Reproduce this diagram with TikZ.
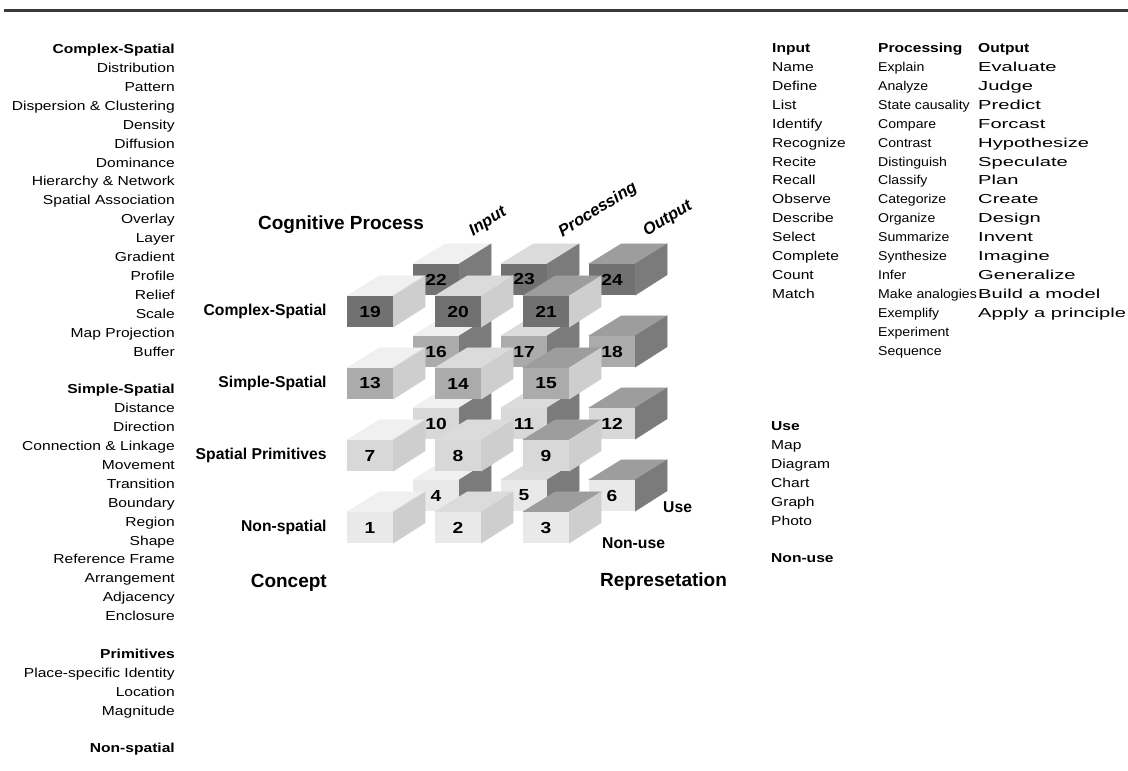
\documentclass[tikz,border=0pt]{standalone}
\usepackage{fontspec}
\setmainfont{Liberation Sans}
\newfontfamily\widefont{Liberation Sans}[FakeStretch=1.2]
\newfontfamily\procfont{Liberation Sans}[FakeStretch=1.1]
\newfontfamily\widerfont{Liberation Sans}[FakeStretch=1.55]
\usetikzlibrary{positioning}

\definecolor{lvlnon}{HTML}{E9E9E9}
\definecolor{lvlprim}{HTML}{D8D8D8}
\definecolor{lvlsimple}{HTML}{ABABAB}
\definecolor{lvlcomplex}{HTML}{717171}
\definecolor{topin}{HTML}{F0F0F0}
\definecolor{toppro}{HTML}{DBDBDB}
\definecolor{topout}{HTML}{9D9D9D}
\definecolor{sidenon}{HTML}{CECECE}
\definecolor{sideuse}{HTML}{7B7B7B}
\definecolor{rulegray}{HTML}{3A3A3A}

\newcommand{\blockbox}[6]{%
  \node[face, fill=#3] (#1) at (#2) {#6};
  \filldraw[#4, line width=0.3pt] (#1.north west) -- (#1.north east) -- ++(32,-20) -- ++(-46,0) -- cycle;
  \filldraw[#5, line width=0.3pt] (#1.south east) -- (#1.north east) -- ++(32,-20) -- ++(0,31) -- cycle;
}

\begin{document}
\begin{tikzpicture}[x=1pt, y=-1pt,
    face/.style={inner sep=0pt, minimum width=46pt, minimum height=31pt,
      font=\widefont\bfseries\fontsize{16}{18}\selectfont},
    rowlabel/.style={font=\bfseries\fontsize{15.7}{18}\selectfont, inner sep=0pt},
    biglabel/.style={font=\bfseries\fontsize{19}{22}\selectfont, inner sep=0pt},
    axislabel/.style={font=\bfseries\itshape\fontsize{16.5}{18}\selectfont, rotate=32, inner sep=0pt},
    wordlist/.style={font=\widefont\fontsize{13}{18.9}\selectfont, inner sep=0pt}]

  \useasboundingbox (0,0) rectangle (1128,771);
  \draw[rulegray, line width=2.2pt] (4,10.5) -- (1128,10.5);

  \blockbox{b22}{436,279.5}{lvlcomplex}{topin}{sideuse}{22}
  \blockbox{b23}{524,279.5}{lvlcomplex}{toppro}{sideuse}{23}
  \blockbox{b24}{612,279.5}{lvlcomplex}{topout}{sideuse}{24}
  \blockbox{b16}{436,351.5}{lvlsimple}{topin}{sideuse}{16}
  \blockbox{b17}{524,351.5}{lvlsimple}{toppro}{sideuse}{17}
  \blockbox{b18}{612,351.5}{lvlsimple}{topout}{sideuse}{18}
  \blockbox{b10}{436,423.5}{lvlprim}{topin}{sideuse}{10}
  \blockbox{b11}{524,423.5}{lvlprim}{toppro}{sideuse}{11}
  \blockbox{b12}{612,423.5}{lvlprim}{topout}{sideuse}{12}
  \blockbox{b4}{436,495.5}{lvlnon}{topin}{sideuse}{4}
  \blockbox{b5}{524,495.5}{lvlnon}{toppro}{sideuse}{5}
  \blockbox{b6}{612,495.5}{lvlnon}{topout}{sideuse}{6}

  \blockbox{b19}{370,311.5}{lvlcomplex}{topin}{sidenon}{19}
  \blockbox{b20}{458,311.5}{lvlcomplex}{toppro}{sidenon}{20}
  \blockbox{b21}{546,311.5}{lvlcomplex}{topout}{sidenon}{21}
  \blockbox{b13}{370,383.5}{lvlsimple}{topin}{sidenon}{13}
  \blockbox{b14}{458,383.5}{lvlsimple}{toppro}{sidenon}{14}
  \blockbox{b15}{546,383.5}{lvlsimple}{topout}{sidenon}{15}
  \blockbox{b7}{370,455.5}{lvlprim}{topin}{sidenon}{7}
  \blockbox{b8}{458,455.5}{lvlprim}{toppro}{sidenon}{8}
  \blockbox{b9}{546,455.5}{lvlprim}{topout}{sidenon}{9}
  \blockbox{b1}{370,527.5}{lvlnon}{topin}{sidenon}{1}
  \blockbox{b2}{458,527.5}{lvlnon}{toppro}{sidenon}{2}
  \blockbox{b3}{546,527.5}{lvlnon}{topout}{sidenon}{3}

  \node[rowlabel, left=20pt of b19] (rowcomplex) {Complex-Spatial};
  \node[rowlabel, left=20pt of b13] (rowsimple) {Simple-Spatial};
  \node[rowlabel, left=20pt of b7] (rowprim) {Spatial Primitives};
  \node[rowlabel, left=20pt of b1] (rownon) {Non-spatial};

  \node[biglabel] (cogproc) at (341,225) {Cognitive Process};
  \node[biglabel, anchor=east] (concept) at (327,583) {Concept};
  \node[biglabel, anchor=west] (represent) at (600,582) {Represetation};
  \node[axislabel] (axin) at (488,222) {Input};
  \node[axislabel] (axpro) at (598,210) {Processing};
  \node[axislabel] (axout) at (668,219) {Output};
  \node[rowlabel, anchor=west] (useaxis) at (663,507) {Use};
  \node[rowlabel, anchor=west] (nonuseaxis) at (602,543) {Non-use};

  \node[wordlist, anchor=north east, align=right] (conceptlist) at (175,40.2) {\strut\textbf{Complex-Spatial}\\
    Distribution\\ Pattern\\ Dispersion \& Clustering\\ Density\\ Diffusion\\ Dominance\\
    Hierarchy \& Network\\ Spatial Association\\ Overlay\\ Layer\\ Gradient\\ Profile\\
    Relief\\ Scale\\ Map Projection\\ Buffer\\[18.9pt]
    \textbf{Simple-Spatial}\\ Distance\\ Direction\\ Connection \& Linkage\\ Movement\\
    Transition\\ Boundary\\ Region\\ Shape\\ Reference Frame\\ Arrangement\\ Adjacency\\
    Enclosure\\[18.9pt]
    \textbf{Primitives}\\ Place-specific Identity\\ Location\\ Magnitude\\[18.9pt]
    \textbf{Non-spatial}};

  \node[wordlist, anchor=north west, align=left] (inputlist) at (772,39.2) {\strut\textbf{Input}\\
    Name\\ Define\\ List\\ Identify\\ Recognize\\ Recite\\ Recall\\ Observe\\ Describe\\
    Select\\ Complete\\ Count\\ Match};
  \node[wordlist, font=\procfont\fontsize{12.8}{18.9}\selectfont, anchor=north west, align=left] (processlist) at (878,39.2)
    {\strut{\widefont\bfseries\fontsize{13}{18.9}\selectfont Processing}\\
    Explain\\ Analyze\\ State causality\\ Compare\\ Contrast\\ Distinguish\\ Classify\\
    Categorize\\ Organize\\ Summarize\\ Synthesize\\ Infer\\ Make analogies\\ Exemplify\\
    Experiment\\ Sequence};
  \node[wordlist, font=\widerfont\fontsize{13}{18.9}\selectfont, anchor=north west, align=left] (outputlist) at (978,39.2)
    {\strut{\widefont\bfseries Output}\\
    Evaluate\\ Judge\\ Predict\\ Forcast\\ Hypothesize\\ Speculate\\ Plan\\ Create\\
    Design\\ Invent\\ Imagine\\ Generalize\\ Build a model\\ Apply a principle};
  \node[wordlist, anchor=north west, align=left] (uselist) at (771,417.2) {\strut\textbf{Use}\\
    Map\\ Diagram\\ Chart\\ Graph\\ Photo\\[18.9pt]
    \textbf{Non-use}};
\end{tikzpicture}
\end{document}
